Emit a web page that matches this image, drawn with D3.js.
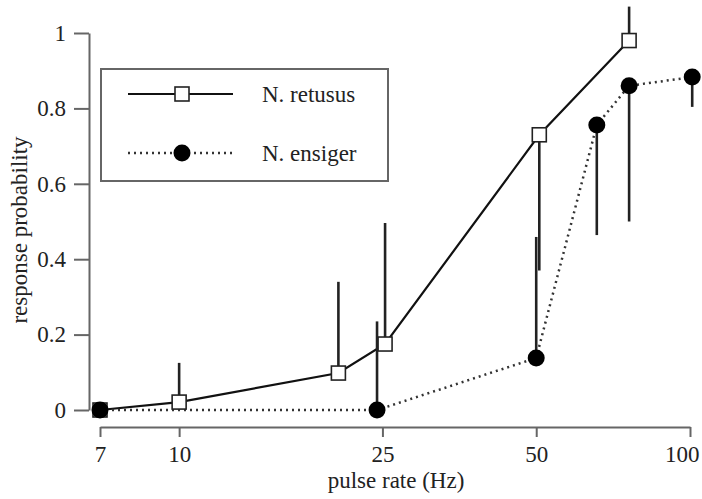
<!DOCTYPE html>
<html>
<head>
<meta charset="utf-8">
<script src="https://cdn.jsdelivr.net/npm/d3@7"></script>
<style>
  body { margin: 0; background: #fff; }
  text { font-family: "Liberation Serif", "Times New Roman", serif; fill: #222; }
</style>
</head>
<body>
<div id="chart"></div>
<script>
// data
const xTicks = [7, 10, 25, 50, 100];
const yTicks = [0, 0.2, 0.4, 0.6, 0.8, 1];

const retususRate = [7, 10, 20.5, 25.3, 50.7, 76];
const retususProb = [0, 0.021, 0.098, 0.175, 0.73, 0.98];
const retususErr  = [null, 0.125, 0.34, 0.496, 0.37, 1.07];

const ensigerRate = [7, 24.4, 50, 65.7, 76, 101];
const ensigerProb = [0, 0, 0.138, 0.756, 0.86, 0.883];
const ensigerErr  = [null, 0.235, 0.459, 0.464, 0.5, 0.804];

const legendNames = ["N. retusus", "N. ensiger"];

const retusus = retususRate.map((r, i) => ({rate: r, p: retususProb[i], e: retususErr[i]}));
const ensiger = ensigerRate.map((r, i) => ({rate: r, p: ensigerProb[i], e: ensigerErr[i]}));

// size and layout
const width = 702, height = 499;

const svg = d3.select("#chart")
  .append("svg")
    .attr("width", width)
    .attr("height", height);

// x-axis (log pulse rate)
const x = d3.scaleLog()
  .domain([7, 100])
  .range([100, 690]);

// y-axis (response probability)
const y = d3.scaleLinear()
  .domain([0, 1])
  .range([410, 33]);

const xAxis = svg.append("g")
  .attr("transform", "translate(0, 427)")
  .call(d3.axisBottom(x).tickValues(xTicks).tickFormat(d3.format("d"))
    .tickSize(10).tickSizeOuter(0).tickPadding(9));

const yAxis = svg.append("g")
  .attr("transform", "translate(89, 0)")
  .call(d3.axisLeft(y).tickValues(yTicks).tickFormat(d => d === 0 || d === 1 ? d : d.toFixed(1))
    .tickSize(15).tickSizeOuter(0).tickPadding(8));

[xAxis, yAxis].forEach(a => {
  a.select(".domain").attr("stroke", "#666").attr("stroke-width", 2);
  a.selectAll(".tick line").attr("stroke", "#666").attr("stroke-width", 2);
  a.selectAll(".tick text").attr("font-size", 23).attr("fill", "#222")
    .style("font-family", "'Liberation Serif', serif");
});

// the last label sits a little left of its tick, as in the figure
xAxis.selectAll(".tick text")
  .filter(d => d === 100)
  .attr("text-anchor", "end")
  .attr("x", 9);

svg.append("text")
  .attr("x", 396).attr("y", 488)
  .attr("text-anchor", "middle")
  .attr("font-size", 23)
  .text("pulse rate (Hz)");

svg.append("text")
  .attr("transform", "translate(27, 230) rotate(-90)")
  .attr("text-anchor", "middle")
  .attr("font-size", 23)
  .text("response probability");

const line = d3.line()
  .x(d => x(d.rate))
  .y(d => y(d.p));

// connecting lines
svg.append("path")
  .datum(retusus)
  .attr("fill", "none")
  .attr("stroke", "#111")
  .attr("stroke-width", 2.2)
  .attr("d", line);

svg.append("path")
  .datum(ensiger)
  .attr("fill", "none")
  .attr("stroke", "#333")
  .attr("stroke-width", 2.5)
  .attr("stroke-dasharray", "2,4")
  .attr("d", line);

// one-sided error bars
const bars = retusus.concat(ensiger).filter(d => d.e !== null);
svg.selectAll(".err")
  .data(bars)
  .join("line")
    .attr("class", "err")
    .attr("x1", d => x(d.rate))
    .attr("x2", d => x(d.rate))
    .attr("y1", d => y(d.p))
    .attr("y2", d => y(d.e))
    .attr("stroke", "#222")
    .attr("stroke-width", 2.6);

// markers
svg.selectAll(".sq")
  .data(retusus)
  .join("rect")
    .attr("class", "sq")
    .attr("x", d => x(d.rate) - 7)
    .attr("y", d => y(d.p) - 7)
    .attr("width", 14)
    .attr("height", 14)
    .attr("fill", "#fff")
    .attr("stroke", "#222")
    .attr("stroke-width", 1.6);

svg.selectAll(".dot")
  .data(ensiger)
  .join("circle")
    .attr("class", "dot")
    .attr("cx", d => x(d.rate))
    .attr("cy", d => y(d.p))
    .attr("r", 8.5)
    .attr("fill", "#000");

// legend
const legend = svg.append("g");
legend.append("rect")
  .attr("x", 101).attr("y", 69)
  .attr("width", 287).attr("height", 112)
  .attr("fill", "#fff")
  .attr("stroke", "#666")
  .attr("stroke-width", 2);

const rows = [0, 1];
rows.forEach(i => {
  const ly = i === 0 ? 94 : 153;
  legend.append("line")
    .attr("x1", 128).attr("x2", 233)
    .attr("y1", ly).attr("y2", ly)
    .attr("stroke", i === 0 ? "#111" : "#333")
    .attr("stroke-width", i === 0 ? 2.2 : 2.5)
    .attr("stroke-dasharray", i === 0 ? null : "2,4");
  if (i === 0) {
    legend.append("rect")
      .attr("x", 175).attr("y", ly - 7)
      .attr("width", 14).attr("height", 14)
      .attr("fill", "#fff").attr("stroke", "#222").attr("stroke-width", 1.6);
  } else {
    legend.append("circle")
      .attr("cx", 182).attr("cy", ly).attr("r", 8.5).attr("fill", "#000");
  }
  legend.append("text")
    .attr("x", 262).attr("y", ly + 8)
    .attr("font-size", 23)
    .text(legendNames[i]);
});
</script>
</body>
</html>
